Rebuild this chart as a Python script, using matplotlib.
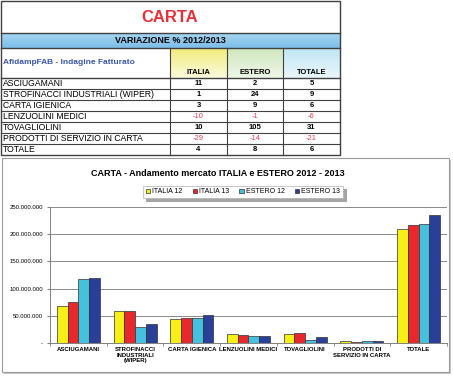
import numpy as np
import matplotlib
matplotlib.use("Agg")
import matplotlib.pyplot as plt
from matplotlib.patches import Rectangle
from matplotlib.ticker import FuncFormatter

plt.rcParams['font.family'] = ['Liberation Sans', 'DejaVu Sans']

# table data (variazione % 2012/2013)
rows = ["ASCIUGAMANI", "STROFINACCI INDUSTRIALI (WIPER)", "CARTA IGIENICA",
        "LENZUOLINI MEDICI", "TOVAGLIOLINI", "PRODOTTI DI SERVIZIO IN CARTA", "TOTALE"]
italia_pct = [11, 1, 3, -10, 10, -29, 4]
estero_pct = [2, 24, 9, -1, 105, -14, 8]
totale_pct = [5, 9, 6, -6, 31, -21, 6]
table_cols = ["ITALIA", "ESTERO", "TOTALE"]

# chart data (euro)
categories = ["ASCIUGAMANI", "STROFINACCI\nINDUSTRIALI\n(WIPER)", "CARTA IGIENICA",
              "LENZUOLINI MEDICI", "TOVAGLIOLINI", "PRODOTTI DI\nSERVIZIO IN CARTA", "TOTALE"]
italia_12 = [68e6, 59e6, 45e6, 16.5e6, 17.7e6, 3.6e6, 208.5e6]
italia_13 = [75e6, 60e6, 46.5e6, 14.8e6, 19.5e6, 2.6e6, 217e6]
estero_12 = [118e6, 29e6, 47e6, 14e6, 5.6e6, 4.8e6, 218e6]
estero_13 = [120e6, 36e6, 51e6, 13.9e6, 11.5e6, 4.1e6, 235.5e6]
series_names = ["ITALIA 12", "ITALIA 13", "ESTERO 12", "ESTERO 13"]
series_colors = ["#f7ef16", "#e8282c", "#45c1de", "#2a3f98"]

W, H = 453, 376
fig = plt.figure(figsize=(W / 100, H / 100), dpi=100)
fig.patch.set_facecolor("white")

# background axes in pixel coords for the table and the chart frame
bg = fig.add_axes([0, 0, 1, 1])
bg.set_xlim(0, W)
bg.set_ylim(H, 0)
bg.axis("off")

def grad(ax, x0, x1, y0, y1, c_top, c_bot):
    t = np.linspace(0, 1, 50)[:, None]
    c0 = np.array(matplotlib.colors.to_rgb(c_top))
    c1 = np.array(matplotlib.colors.to_rgb(c_bot))
    img = (c0 * (1 - t) + c1 * t)[:, None, :]
    ax.imshow(img, extent=(x0, x1, y1, y0), aspect="auto", zorder=1)

tx0, tx1 = 1, 340
col_x = [170, 227, 283, 340]
y_title, y_band, y_head, y_rows = 0, 33, 48, 78
row_h = 11

# blue band + header gradients
grad(bg, tx0, tx1, y_band, y_head, "#a6d6f2", "#7dbde8")
grad(bg, col_x[0], col_x[1], y_head, y_rows, "#f1ec7c", "#fbfadc")
grad(bg, col_x[1], col_x[2], y_head, y_rows, "#cfe7bd", "#eef7e8")
grad(bg, col_x[2], col_x[3], y_head, y_rows, "#bfe6f4", "#eaf7fc")
bg.set_xlim(0, W)
bg.set_ylim(H, 0)

lc = "#404040"
bg.add_patch(Rectangle((tx0, 0.5), tx1 - tx0, y_rows + row_h * len(rows) - 0.5,
                       fill=False, ec=lc, lw=1.0, zorder=3))
for yy in [y_band, y_head, y_rows]:
    bg.plot([tx0, tx1], [yy, yy], color=lc, lw=1.0, zorder=3)
for i in range(1, len(rows)):
    bg.plot([tx0, tx1], [y_rows + i * row_h] * 2, color=lc, lw=0.8, zorder=3)
for xx in col_x[:-1]:
    bg.plot([xx, xx], [y_head, y_rows + row_h * len(rows)], color=lc, lw=0.8, zorder=3)

bg.text(170, 17, "CARTA", color="#e8303a", fontsize=12, fontweight="bold",
        ha="center", va="center", zorder=4)
bg.text(170, 40.5, "VARIAZIONE % 2012/2013", fontsize=6.5, fontweight="bold",
        ha="center", va="center", zorder=4)
bg.text(3, 62, "AfidampFAB - Indagine Fatturato", color="#3a56a8", fontsize=6,
        fontweight="bold", ha="left", va="center", zorder=4)
for j, name in enumerate(table_cols):
    bg.text((col_x[j] + col_x[j + 1]) / 2, 73, name, fontsize=5.5, fontweight="bold",
            ha="center", va="center", zorder=4)

for i, name in enumerate(rows):
    yc = y_rows + (i + 0.5) * row_h
    bg.text(3, yc, name, fontsize=6.2, ha="left", va="center", zorder=4)
    for j, vals in enumerate([italia_pct, estero_pct, totale_pct]):
        v = vals[i]
        neg = v < 0
        bg.text((col_x[j] + col_x[j + 1]) / 2, yc, str(v), fontsize=5.5,
                fontweight="normal" if neg else "bold",
                color="#e0405a" if neg else "black",
                ha="center", va="center", zorder=4)

# chart frame
bg.add_patch(Rectangle((4, 160), W - 4 - 2, 214, fc="#c8c8c8", ec="none", zorder=1))
bg.add_patch(Rectangle((2, 158), W - 4 - 2, 214, fc="white", ec="#9a9a9a", lw=0.8, zorder=2))
bg.text(218, 173, "CARTA - Andamento mercato ITALIA e ESTERO 2012 - 2013",
        fontsize=6.5, fontweight="bold", ha="center", va="center", zorder=4)

# bar chart
px0, px1, py0, py1 = 50, 447, 206.7, 343.3
ax = fig.add_axes([px0 / W, 1 - py1 / H, (px1 - px0) / W, (py1 - py0) / H])
ax.set_facecolor("white")
x = np.arange(len(categories))
bw = 0.19
for k, vals in enumerate([italia_12, italia_13, estero_12, estero_13]):
    ax.bar(x + (k - 1.5) * bw, vals, width=bw, color=series_colors[k],
           edgecolor="#303030", linewidth=0.5, label=series_names[k], zorder=3)

ax.set_xlim(-0.5, len(categories) - 0.5)
ax.set_ylim(0, 250e6)
ax.set_yticks(np.arange(0, 250e6 + 1, 50e6))
ax.yaxis.set_major_formatter(FuncFormatter(
    lambda v, p: "-" if v == 0 else f"{int(v):,}".replace(",", ".")))
ax.grid(axis="y", color="#8a8a8a", lw=0.7, zorder=0)
ax.set_xticks(x)
ax.set_xticklabels(categories, fontsize=4.3, fontweight="bold", linespacing=1.1)
ax.set_xticks(np.arange(-0.5, len(categories), 1), minor=True)
ax.tick_params(axis="x", which="major", length=0, pad=3)
ax.tick_params(axis="x", which="minor", length=2, color="#808080")
ax.tick_params(axis="y", labelsize=4.3, length=2, color="#808080", pad=3)
for s in ["top", "right"]:
    ax.spines[s].set_visible(False)
for s in ["left", "bottom"]:
    ax.spines[s].set_color("#808080")
    ax.spines[s].set_linewidth(0.7)

leg = ax.legend(loc="center", bbox_to_anchor=(243 / W, 1 - 192 / H),
                bbox_transform=fig.transFigure, ncol=4, fontsize=5,
                handlelength=0.6, handleheight=0.6, handletextpad=0.3,
                columnspacing=1.5, borderpad=0.35, fancybox=False, shadow=True,
                edgecolor="#b0b0b0", framealpha=1)
leg.get_frame().set_linewidth(0.5)

fig.savefig("out.png", dpi=100)
